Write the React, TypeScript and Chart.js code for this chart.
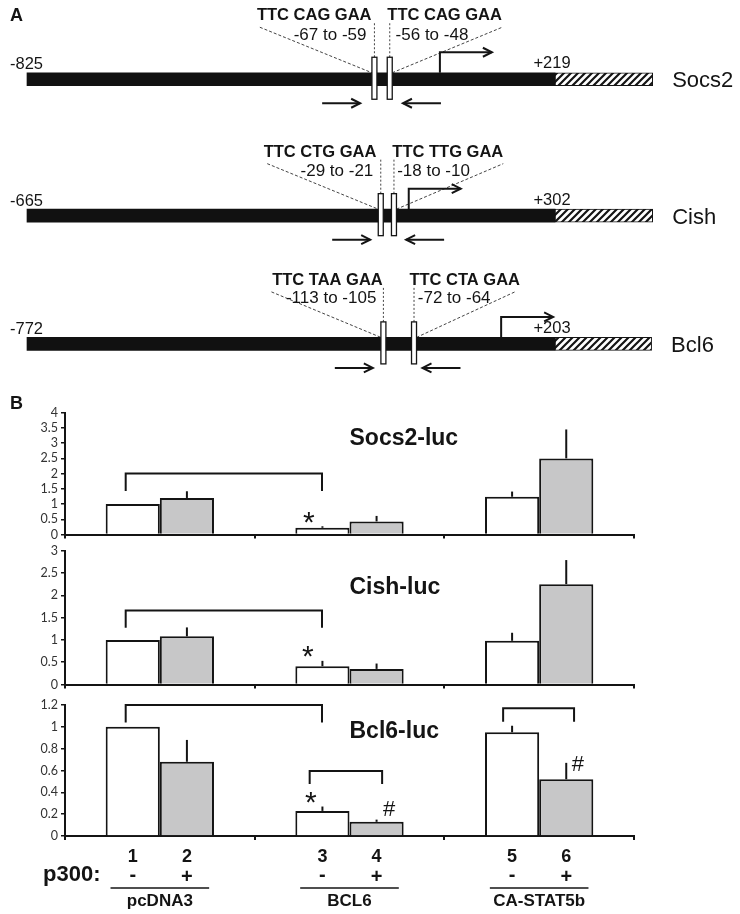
import React, { useEffect, useRef } from "react";
import { Chart, registerables } from "chart.js";

Chart.register(...registerables);

const SANS = '"Liberation Sans", Arial, Helvetica, sans-serif';
const TICK_SANS = 'Lato, "Open Sans", sans-serif';
const INK = "#141414";

// ---------------- Panel A: reporter constructs ----------------
const genes = ["Socs2", "Cish", "Bcl6"];
const startLabels = ["-825", "-665", "-772"];
const endLabels = ["+219", "+302", "+203"];
const siteSequences = [
  ["TTC CAG GAA", "TTC CAG GAA"],
  ["TTC CTG GAA", "TTC TTG GAA"],
  ["TTC TAA GAA", "TTC CTA GAA"],
];
const siteRanges = [
  ["-67 to -59", "-56 to -48"],
  ["-29 to -21", "-18 to -10"],
  ["-113 to -105", "-72 to -64"],
];
// schematic position along each construct (0 = 5' end, 100 = promoter / luciferase junction)
const promoterSpans = [[0, 100], [0, 100], [0, 100]];
const reporterSpans = [[100, 118.5], [100, 118.5], [100, 118.3]];
const siteCentres = [[65.8, 68.7], [67.0, 69.5], [67.5, 73.3]];
const tssPositions = [78.2, 72.3, 89.8];
const primerCentres = [[59.5, 74.8], [61.4, 75.4], [61.9, 78.5]];
const sequenceLabelCentres = [[54.4, 79.1], [55.5, 79.7], [56.9, 82.9]];
const rangeLabelCentres = [[57.4, 76.7], [58.7, 77.0], [57.6, 80.9]];
const calloutEnds = [[44.1, 90.0], [45.5, 90.2], [46.3, 92.4]];
const constructRows = [0, 1, 1.94];
const rangeLabelRise = [39.5, 40, 41];

// ---------------- Panel B: luciferase assays ----------------
const groups = ["pcDNA3", "BCL6", "CA-STAT5b"];
const laneNumbers = [["1", "2"], ["3", "4"], ["5", "6"]];
const p300Signs = ["-", "+"];
const rowLabel = "p300:";

const socs2Minus = [1.0, 0.22, 1.24];
const socs2MinusErr = [0, 0.05, 0.17];
const socs2Plus = [1.2, 0.43, 2.5];
const socs2PlusErr = [0.22, 0.18, 0.95];
const socs2Ticks = [0, 0.5, 1, 1.5, 2, 2.5, 3, 3.5, 4];
const socs2TitleAt = [1.0, 2.94];
const socs2Brackets = [[-0.18, 0.855, 2.0, 1.43]];
const socs2Marks: [string, number, number][] = [["*", 0.786, 0.57]];

const cishMinus = [1.0, 0.41, 0.98];
const cishMinusErr = [0, 0.12, 0.18];
const cishPlus = [1.08, 0.35, 2.25];
const cishPlusErr = [0.2, 0.12, 0.54];
const cishTicks = [0, 0.5, 1, 1.5, 2, 2.5, 3];
const cishTitleAt = [1.0, 2.04];
const cishBrackets = [[-0.18, 0.855, 1.66, 1.27]];
const cishMarks: [string, number, number][] = [["*", 0.78, 0.73]];

const bcl6Minus = [1.0, 0.23, 0.95];
const bcl6MinusErr = [0, 0.04, 0.06];
const bcl6Plus = [0.68, 0.13, 0.52];
const bcl6PlusErr = [0.2, 0.02, 0.15];
const bcl6Ticks = [0, 0.2, 0.4, 0.6, 0.8, 1, 1.2];
const bcl6TitleAt = [1.0, 0.9];
const bcl6Brackets = [
  [-0.18, 0.855, 1.2, 1.04],
  [0.79, 1.172, 0.595, 0.476],
  [1.81, 2.184, 1.17, 1.047],
];
const bcl6Marks: [string, number, number][] = [
  ["*", 0.796, 0.357],
  ["#", 1.209, 0.256],
  ["#", 2.204, 0.668],
];

const panelB = [
  { title: "Socs2-luc", minus: socs2Minus, minusErr: socs2MinusErr, plus: socs2Plus, plusErr: socs2PlusErr, ticks: socs2Ticks, titleAt: socs2TitleAt, brackets: socs2Brackets, marks: socs2Marks },
  { title: "Cish-luc", minus: cishMinus, minusErr: cishMinusErr, plus: cishPlus, plusErr: cishPlusErr, ticks: cishTicks, titleAt: cishTitleAt, brackets: cishBrackets, marks: cishMarks },
  { title: "Bcl6-luc", minus: bcl6Minus, minusErr: bcl6MinusErr, plus: bcl6Plus, plusErr: bcl6PlusErr, ticks: bcl6Ticks, titleAt: bcl6TitleAt, brackets: bcl6Brackets, marks: bcl6Marks },
];

// canvas placement of the three assay panels
const panelLayout = [
  { top: 385, height: 160, padTop: 27.7, padBottom: 0 },
  { top: 530, height: 165, padTop: 20.7, padBottom: 0 },
  { top: 690, height: 224, padTop: 15, padBottom: 69 },
];

function makeHatch(): any {
  const c = document.createElement("canvas");
  c.width = 7;
  c.height = 7;
  const g = c.getContext("2d");
  if (!g) return "#888";
  g.fillStyle = "#fff";
  g.fillRect(0, 0, 7, 7);
  g.strokeStyle = INK;
  g.lineWidth = 2.2;
  g.beginPath();
  g.moveTo(-1, 8);
  g.lineTo(8, -1);
  g.moveTo(-1, 1);
  g.lineTo(1, -1);
  g.moveTo(6, 8);
  g.lineTo(8, 6);
  g.stroke();
  return g.createPattern(c, "repeat") || "#888";
}

function head(ctx: CanvasRenderingContext2D, x: number, y: number, dir: number) {
  ctx.beginPath();
  ctx.moveTo(x - dir * 9, y - 4.5);
  ctx.lineTo(x, y);
  ctx.lineTo(x - dir * 9, y + 4.5);
  ctx.stroke();
}

function hArrow(ctx: CanvasRenderingContext2D, x1: number, x2: number, y: number) {
  ctx.beginPath();
  ctx.moveTo(x1, y);
  ctx.lineTo(x2, y);
  ctx.stroke();
  head(ctx, x2, y, Math.sign(x2 - x1));
}

const constructPlugin = {
  id: "constructs",
  afterDatasetsDraw(chart: any) {
    const ctx: CanvasRenderingContext2D = chart.ctx;
    const x = chart.scales.x;
    const y = chart.scales.y;
    ctx.save();
    ctx.fillStyle = INK;
    ctx.strokeStyle = INK;
    ctx.lineJoin = "miter";
    ctx.textBaseline = "alphabetic";
    ctx.font = `bold 18px ${SANS}`;
    ctx.textAlign = "left";
    ctx.fillText("A", x.getPixelForValue(0) - 17, y.getPixelForValue(constructRows[0]) - 58);

    genes.forEach((gene, i) => {
      const r = y.getPixelForValue(constructRows[i]);
      const barTop = r - 6.5;
      const s = siteCentres[i].map((v) => x.getPixelForValue(v));
      // call-out lines
      ctx.lineWidth = 0.8;
      ctx.setLineDash([3, 2]);
      ctx.beginPath();
      ctx.moveTo(x.getPixelForValue(calloutEnds[i][0]), r - 52);
      ctx.lineTo(s[0] - 2.5, barTop);
      ctx.moveTo(s[1] + 2.5, barTop);
      ctx.lineTo(x.getPixelForValue(calloutEnds[i][1]), r - 52);
      ctx.stroke();
      ctx.setLineDash([2, 2]);
      ctx.beginPath();
      s.forEach((sx) => {
        ctx.moveTo(sx, r - 22);
        ctx.lineTo(sx, r - 56);
      });
      ctx.stroke();
      ctx.setLineDash([]);
      // STAT5 sites
      ctx.lineWidth = 1.3;
      s.forEach((sx) => {
        ctx.fillStyle = "#fff";
        ctx.fillRect(sx - 2.5, r - 22, 5, 42);
        ctx.strokeRect(sx - 2.5, r - 22, 5, 42);
      });
      ctx.fillStyle = INK;
      // transcription start
      ctx.lineWidth = 2;
      const t = x.getPixelForValue(tssPositions[i]);
      ctx.beginPath();
      ctx.moveTo(t, barTop);
      ctx.lineTo(t, r - 27);
      ctx.lineTo(t + 52, r - 27);
      ctx.stroke();
      head(ctx, t + 52, r - 27, 1);
      // primers
      const p0 = x.getPixelForValue(primerCentres[i][0]);
      const p1 = x.getPixelForValue(primerCentres[i][1]);
      hArrow(ctx, p0 - 19, p0 + 19, r + 24);
      hArrow(ctx, p1 + 19, p1 - 19, r + 24);
      // texts
      ctx.font = `16.5px ${SANS}`;
      ctx.textAlign = "left";
      ctx.fillText(startLabels[i], x.getPixelForValue(promoterSpans[i][0]) - 17, r - 10);
      ctx.textAlign = "center";
      ctx.fillText(endLabels[i], x.getPixelForValue(promoterSpans[i][1]) - 3, r - 11);
      ctx.font = `22px ${SANS}`;
      ctx.textAlign = "left";
      ctx.fillText(gene, x.getPixelForValue(reporterSpans[i][1]) + 19.5, r + 8);
      ctx.textAlign = "center";
      ctx.font = `bold 16.5px ${SANS}`;
      siteSequences[i].forEach((seq, k) => ctx.fillText(seq, x.getPixelForValue(sequenceLabelCentres[i][k]), r - 59));
      ctx.font = `17px ${SANS}`;
      siteRanges[i].forEach((rg, k) => ctx.fillText(rg, x.getPixelForValue(rangeLabelCentres[i][k]), r - rangeLabelRise[i]));
    });
    ctx.restore();
  },
};

function buildConstructChart(canvas: HTMLCanvasElement) {
  const hatch = makeHatch();
  return new Chart(canvas, {
    type: "bar",
    data: {
      datasets: [
        {
          label: "promoter",
          data: genes.map((g, i) => ({ x: promoterSpans[i], y: constructRows[i] })) as any,
          backgroundColor: "#111",
          borderWidth: 0,
          barThickness: 13,
          grouped: false,
          clip: false as any,
        },
        {
          label: "luciferase",
          data: genes.map((g, i) => ({ x: reporterSpans[i], y: constructRows[i] })) as any,
          backgroundColor: hatch,
          borderColor: INK,
          borderWidth: 1,
          borderSkipped: false,
          barThickness: 13,
          grouped: false,
          clip: false as any,
        },
      ],
    },
    options: {
      indexAxis: "y",
      animation: false,
      responsive: false,
      maintainAspectRatio: false,
      layout: { padding: { left: 27, right: 185, top: 0, bottom: 0 } },
      plugins: { legend: { display: false }, tooltip: { enabled: false } },
      scales: {
        x: { type: "linear", min: 0, max: 100, display: false },
        y: { type: "linear", min: -0.581, max: 2.278, reverse: true, offset: false, display: false },
      },
    } as any,
    plugins: [constructPlugin as any],
  });
}

function centredText(ctx: CanvasRenderingContext2D, t: string, x: number, y: number) {
  const m = ctx.measureText(t);
  ctx.fillText(t, x, y + (m.actualBoundingBoxAscent - m.actualBoundingBoxDescent) / 2);
}

function assayPlugin(spec: any, idx: number, last: boolean) {
  return {
    id: "assay" + idx,
    afterDatasetsDraw(chart: any) {
      const ctx: CanvasRenderingContext2D = chart.ctx;
      const xs = chart.scales.x;
      const ys = chart.scales.y;
      const area = chart.chartArea;
      ctx.save();
      ctx.strokeStyle = INK;
      ctx.fillStyle = INK;
      ctx.lineWidth = 2;
      ctx.textBaseline = "alphabetic";
      // error bars
      [
        [spec.minus, spec.minusErr],
        [spec.plus, spec.plusErr],
      ].forEach(([vals, errs]: any, d: number) => {
        const meta = chart.getDatasetMeta(d);
        meta.data.forEach((el: any, j: number) => {
          if (!errs[j]) return;
          const top = ys.getPixelForValue(vals[j] + errs[j]);
          ctx.beginPath();
          ctx.moveTo(el.x, el.y);
          ctx.lineTo(el.x, top);
          ctx.stroke();
        });
      });
      // brackets
      spec.brackets.forEach(([a, b, top, leg]: number[]) => {
        const xa = xs.getPixelForValue(a);
        const xb = xs.getPixelForValue(b);
        const yt = ys.getPixelForValue(top);
        const yl = ys.getPixelForValue(leg);
        ctx.beginPath();
        ctx.moveTo(xa, yl);
        ctx.lineTo(xa, yt);
        ctx.lineTo(xb, yt);
        ctx.lineTo(xb, yl);
        ctx.stroke();
      });
      // title
      ctx.font = `bold 23px ${SANS}`;
      ctx.textAlign = "left";
      ctx.fillText(spec.title, xs.getPixelForValue(spec.titleAt[0]), ys.getPixelForValue(spec.titleAt[1]));
      // significance marks
      ctx.textAlign = "center";
      spec.marks.forEach(([t, mx, my]: [string, number, number]) => {
        ctx.font = t === "*" ? `30px ${SANS}` : `22px ${SANS}`;
        centredText(ctx, t, xs.getPixelForValue(mx), ys.getPixelForValue(my));
      });
      if (idx === 0) {
        ctx.font = `bold 18px ${SANS}`;
        ctx.textAlign = "left";
        ctx.fillText("B", 10, area.top - 4);
      }
      if (last) {
        const b = area.bottom;
        [0, 1].forEach((d) => {
          const meta = chart.getDatasetMeta(d);
          meta.data.forEach((el: any, j: number) => {
            ctx.textAlign = "center";
            ctx.font = `bold 18px ${SANS}`;
            ctx.fillText(laneNumbers[j][d], el.x, b + 26);
            ctx.font = `bold 20px ${SANS}`;
            centredText(ctx, p300Signs[d], el.x, b + 39);
          });
        });
        ctx.font = `bold 22px ${SANS}`;
        ctx.textAlign = "left";
        ctx.fillText(rowLabel, area.left - 22, b + 45);
        groups.forEach((g, j) => {
          ctx.lineWidth = 1.5;
          ctx.beginPath();
          ctx.moveTo(xs.getPixelForValue(j - 0.26), b + 52);
          ctx.lineTo(xs.getPixelForValue(j + 0.26), b + 52);
          ctx.stroke();
          ctx.font = `bold 17px ${SANS}`;
          ctx.textAlign = "center";
          ctx.fillText(g, xs.getPixelForValue(j), b + 70);
        });
      }
      ctx.restore();
    },
  };
}

function buildBarChart(canvas: HTMLCanvasElement, spec: any, idx: number, last: boolean) {
  const lay = panelLayout[idx];
  const tickVals: number[] = spec.ticks;
  return new Chart(canvas, {
    type: "bar",
    data: {
      labels: groups,
      datasets: [
        {
          label: "p300 -",
          data: spec.minus,
          backgroundColor: "#ffffff",
          borderColor: INK,
          borderWidth: 2,
          borderSkipped: "start",
          categoryPercentage: 0.571,
          barPercentage: 1,
        },
        {
          label: "p300 +",
          data: spec.plus,
          backgroundColor: "#c7c7c8",
          borderColor: INK,
          borderWidth: 2,
          borderSkipped: "start",
          categoryPercentage: 0.571,
          barPercentage: 1,
        },
      ],
    },
    options: {
      animation: false,
      responsive: false,
      maintainAspectRatio: false,
      layout: { padding: { top: lay.padTop, right: 106, bottom: lay.padBottom, left: 0 } },
      plugins: { legend: { display: false }, tooltip: { enabled: false }, title: { display: false } },
      scales: {
        x: {
          type: "category",
          offset: true,
          ticks: { display: false },
          grid: { offset: true, drawOnChartArea: false, drawTicks: true, tickLength: 4, color: INK, lineWidth: 2 },
          border: { color: INK, width: 2 },
          afterFit: (s: any) => {
            s.height = 9;
          },
        },
        y: {
          min: tickVals[0],
          max: tickVals[tickVals.length - 1],
          afterBuildTicks: (s: any) => {
            s.ticks = tickVals.map((v) => ({ value: v }));
          },
          ticks: {
            autoSkip: false,
            color: "#333",
            font: { family: TICK_SANS, size: 12.5 },
            padding: 3,
            callback: (v: any) => String(Math.round(Number(v) * 10) / 10),
          },
          grid: { drawOnChartArea: false, drawTicks: true, tickLength: 4, color: INK, lineWidth: 1.5 },
          border: { color: INK, width: 2 },
          afterFit: (s: any) => {
            s.width = 65;
          },
        },
      },
    } as any,
    plugins: [assayPlugin(spec, idx, last) as any],
  });
}

export default function App() {
  const aRef = useRef<HTMLCanvasElement>(null);
  const b0 = useRef<HTMLCanvasElement>(null);
  const b1 = useRef<HTMLCanvasElement>(null);
  const b2 = useRef<HTMLCanvasElement>(null);

  useEffect(() => {
    const charts: Chart[] = [];
    if (aRef.current) charts.push(buildConstructChart(aRef.current));
    [b0, b1, b2].forEach((ref, i) => {
      if (ref.current) charts.push(buildBarChart(ref.current, panelB[i], i, i === panelB.length - 1));
    });
    return () => charts.forEach((c) => c.destroy());
  }, []);

  const refs = [b0, b1, b2];
  return (
    <div style={{ position: "absolute", left: 0, top: 0, width: 740, height: 914, background: "#fff", overflow: "hidden" }}>
      <canvas ref={aRef} width={740} height={390} style={{ position: "absolute", left: 0, top: 0, width: 740, height: 390 }} />
      {panelLayout.map((l, i) => (
        <canvas
          key={i}
          ref={refs[i]}
          width={740}
          height={l.height}
          style={{ position: "absolute", left: 0, top: l.top, width: 740, height: l.height }}
        />
      ))}
    </div>
  );
}
